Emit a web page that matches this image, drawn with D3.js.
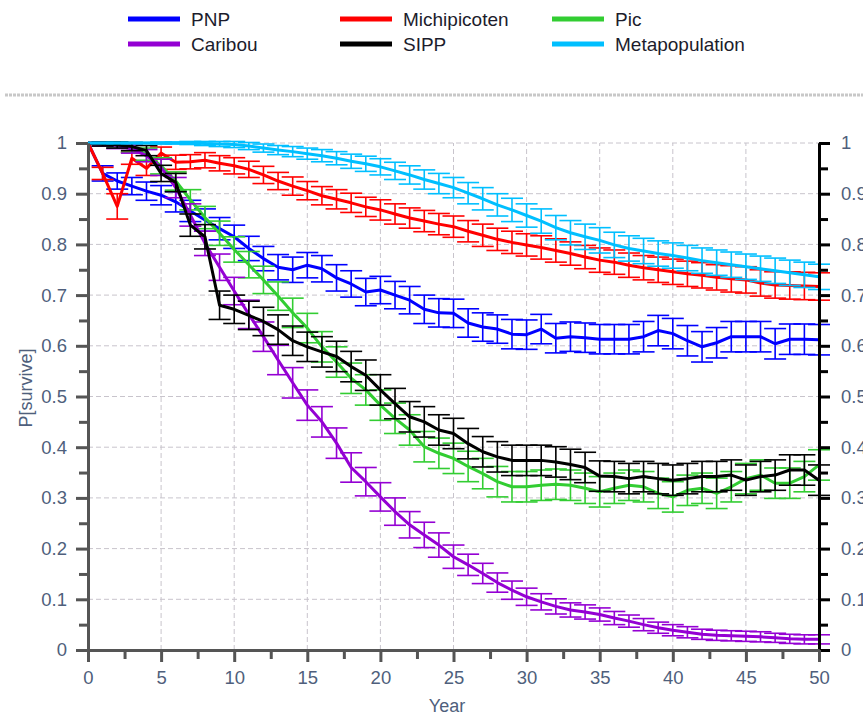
<!DOCTYPE html>
<html>
<head>
<meta charset="utf-8">
<script src="https://cdnjs.cloudflare.com/ajax/libs/d3/7.8.5/d3.min.js"></script>
<style>
body{margin:0;background:#fff;}
text{font-family:"Liberation Sans",Arial,sans-serif;}
</style>
</head>
<body>
<script>
// years 0..50 on the x axis
var years = d3.range(0, 51);

var seriesNames = ["PNP", "Michipicoten", "Pic", "Caribou", "SIPP", "Metapopulation"];
var seriesColors = ["#0000ff", "#ff0000", "#32cd32", "#9400d3", "#000000", "#00bfff"];

var pnp = [1.0,0.94,0.925,0.915,0.905,0.897,0.884,0.866,0.848,0.831,0.815,0.792,0.772,0.755,0.75,0.759,0.752,0.734,0.722,0.706,0.71,0.70,0.69,0.672,0.665,0.664,0.645,0.637,0.633,0.623,0.622,0.633,0.615,0.618,0.616,0.613,0.613,0.613,0.618,0.63,0.624,0.61,0.598,0.606,0.618,0.618,0.618,0.604,0.613,0.613,0.612];
var pnpErr = [0,0.015,0.016,0.017,0.018,0.019,0.02,0.021,0.022,0.022,0.023,0.024,0.024,0.025,0.025,0.025,0.026,0.026,0.026,0.027,0.027,0.027,0.027,0.028,0.028,0.028,0.028,0.028,0.028,0.029,0.029,0.029,0.029,0.029,0.029,0.029,0.029,0.029,0.03,0.03,0.03,0.03,0.03,0.03,0.03,0.03,0.03,0.03,0.03,0.03,0.03];

var michi = [1.0,0.94,0.875,0.97,0.95,0.98,0.962,0.963,0.966,0.96,0.955,0.948,0.937,0.925,0.915,0.906,0.896,0.889,0.882,0.874,0.868,0.86,0.852,0.846,0.84,0.835,0.826,0.818,0.81,0.804,0.799,0.794,0.788,0.782,0.775,0.769,0.765,0.759,0.754,0.75,0.746,0.742,0.739,0.735,0.732,0.73,0.724,0.72,0.719,0.718,0.717];
var michiErr = [0,0.012,0.025,0.012,0.014,0.012,0.014,0.014,0.015,0.015,0.016,0.016,0.017,0.017,0.018,0.018,0.018,0.019,0.019,0.019,0.02,0.02,0.02,0.021,0.021,0.021,0.021,0.022,0.022,0.022,0.022,0.023,0.023,0.023,0.023,0.024,0.024,0.024,0.024,0.025,0.025,0.025,0.025,0.025,0.026,0.026,0.026,0.026,0.027,0.027,0.027];

var pic = [1.0,0.998,0.996,0.99,0.978,0.955,0.925,0.888,0.853,0.822,0.79,0.76,0.73,0.698,0.665,0.635,0.598,0.568,0.536,0.513,0.483,0.457,0.434,0.401,0.388,0.378,0.362,0.348,0.332,0.322,0.322,0.325,0.327,0.325,0.319,0.312,0.319,0.325,0.322,0.309,0.302,0.315,0.319,0.309,0.322,0.338,0.345,0.329,0.329,0.342,0.365];
var picErr = [0,0.004,0.006,0.008,0.012,0.016,0.018,0.02,0.022,0.024,0.025,0.026,0.027,0.028,0.029,0.029,0.03,0.03,0.03,0.03,0.03,0.03,0.03,0.03,0.03,0.03,0.03,0.03,0.03,0.03,0.03,0.03,0.03,0.03,0.03,0.03,0.03,0.03,0.03,0.03,0.03,0.03,0.03,0.03,0.03,0.03,0.03,0.03,0.03,0.03,0.03];

var caribou = [1.0,0.998,0.995,0.988,0.975,0.952,0.912,0.858,0.802,0.755,0.708,0.662,0.618,0.572,0.527,0.483,0.45,0.408,0.36,0.332,0.302,0.273,0.247,0.227,0.207,0.184,0.168,0.151,0.133,0.118,0.105,0.095,0.086,0.079,0.075,0.07,0.063,0.057,0.05,0.044,0.039,0.035,0.031,0.029,0.028,0.027,0.026,0.024,0.022,0.021,0.021];
var caribouErr = [0,0.004,0.006,0.008,0.012,0.016,0.02,0.022,0.024,0.026,0.027,0.028,0.029,0.029,0.03,0.03,0.03,0.03,0.029,0.028,0.028,0.027,0.026,0.025,0.024,0.023,0.021,0.02,0.019,0.018,0.017,0.016,0.015,0.014,0.014,0.013,0.013,0.012,0.012,0.011,0.011,0.011,0.01,0.01,0.01,0.01,0.01,0.009,0.009,0.009,0.009];

var sipp = [1.0,0.998,0.996,0.993,0.985,0.94,0.922,0.838,0.815,0.68,0.672,0.66,0.648,0.632,0.61,0.598,0.588,0.579,0.559,0.542,0.513,0.486,0.46,0.45,0.434,0.427,0.407,0.391,0.381,0.374,0.374,0.374,0.371,0.366,0.36,0.343,0.342,0.338,0.342,0.338,0.335,0.338,0.342,0.342,0.345,0.335,0.342,0.345,0.355,0.355,0.335];
var sippErr = [0,0.004,0.006,0.008,0.01,0.016,0.018,0.022,0.024,0.028,0.028,0.028,0.028,0.029,0.029,0.029,0.03,0.03,0.03,0.03,0.03,0.03,0.03,0.03,0.03,0.03,0.03,0.03,0.03,0.03,0.03,0.03,0.03,0.03,0.03,0.03,0.03,0.03,0.03,0.03,0.03,0.03,0.03,0.03,0.03,0.03,0.03,0.03,0.03,0.03,0.03];

var meta = [1.0,1.0,1.0,1.0,1.0,1.0,1.0,1.0,0.999,0.998,0.997,0.994,0.99,0.986,0.983,0.979,0.975,0.97,0.964,0.959,0.953,0.945,0.937,0.928,0.92,0.912,0.901,0.89,0.878,0.868,0.857,0.846,0.833,0.823,0.815,0.808,0.799,0.792,0.787,0.782,0.778,0.773,0.768,0.764,0.76,0.756,0.752,0.748,0.744,0.74,0.736];
var metaErr = [0,0.001,0.001,0.001,0.001,0.002,0.002,0.003,0.004,0.005,0.006,0.007,0.008,0.009,0.01,0.011,0.012,0.013,0.014,0.015,0.016,0.017,0.018,0.019,0.02,0.02,0.021,0.022,0.022,0.023,0.023,0.024,0.024,0.024,0.025,0.025,0.025,0.025,0.025,0.025,0.025,0.025,0.025,0.025,0.025,0.025,0.025,0.025,0.025,0.025,0.025];

var seriesValues = [pnp, michi, pic, caribou, sipp, meta];
var seriesErrors = [pnpErr, michiErr, picErr, caribouErr, sippErr, metaErr];

var xMajor = [0,5,10,15,20,25,30,35,40,45,50];
var xMinor = [2.5,7.5,12.5,17.5,22.5,27.5,32.5,37.5,42.5,47.5];
var yMajor = [0,0.1,0.2,0.3,0.4,0.5,0.6,0.7,0.8,0.9,1];
var yMinor = [0.05,0.15,0.25,0.35,0.45,0.55,0.65,0.75,0.85,0.95];

var labelColor = "#4f5f7c";

main = function(){
	var svg = d3.select("body").append("svg")
		.attr("width", 863).attr("height", 717);

	var x = d3.scaleLinear().domain([0, 50]).range([88, 819]);
	var y = d3.scaleLinear().domain([0, 1]).range([650, 143]);

	//legend (3 columns, 2 rows)
	var legX = [128, 340, 552];
	var legY = [19, 44];
	for (var i = 0; i < seriesNames.length; i++){
		var lx = legX[i % 3], ly = legY[Math.floor(i / 3)];
		svg.append("line")
			.attr("x1", lx).attr("x2", lx + 52)
			.attr("y1", ly).attr("y2", ly)
			.attr("stroke", seriesColors[i]).attr("stroke-width", 5);
		svg.append("text")
			.attr("x", lx + 63).attr("y", ly + 7)
			.attr("font-size", 19).attr("fill", "#1c1c2c")
			.text(seriesNames[i]);
	}

	// separator under the legend
	svg.append("line")
		.attr("x1", 5).attr("x2", 863).attr("y1", 95).attr("y2", 95)
		.attr("stroke", "#c8c8c8").attr("stroke-width", 3)
		.attr("stroke-dasharray", "3,1");

	//grid
	var grid = svg.append("g").attr("stroke", "#c8c4cc").attr("stroke-width", 1)
		.attr("stroke-dasharray", "5,3");
	grid.selectAll(".gx").data(xMajor.slice(1, -1)).enter().append("line")
		.attr("x1", function(d){ return x(d); }).attr("x2", function(d){ return x(d); })
		.attr("y1", y(0)).attr("y2", y(1));
	grid.selectAll(".gy").data(yMajor.slice(1)).enter().append("line")
		.attr("x1", x(0)).attr("x2", x(50))
		.attr("y1", function(d){ return y(d); }).attr("y2", function(d){ return y(d); });

	//series: error bars then line
	var line = d3.line()
		.x(function(d, i){ return x(years[i]); })
		.y(function(d){ return y(d); });
	var cap = 11;
	for (var s = 0; s < seriesValues.length; s++){
		var vals = seriesValues[s], errs = seriesErrors[s];
		var g = svg.append("g").attr("stroke", seriesColors[s]).attr("fill", "none");
		var bars = g.append("g").attr("stroke-width", 1.6);
		for (var i = 0; i < years.length; i++){
			if (errs[i] <= 0) continue;
			var cx = x(years[i]);
			var top = y(vals[i] + errs[i]), bot = y(vals[i] - errs[i]);
			bars.append("line").attr("x1", cx).attr("x2", cx).attr("y1", top).attr("y2", bot);
			bars.append("line").attr("x1", cx - cap).attr("x2", cx + cap).attr("y1", top).attr("y2", top);
			bars.append("line").attr("x1", cx - cap).attr("x2", cx + cap).attr("y1", bot).attr("y2", bot);
		}
		g.append("path")
			.attr("d", line(vals))
			.attr("stroke-width", 3)
			.attr("stroke-linejoin", "round");
	}

	var fmt = function(d){ return d3.format("~g")(d); };

	//left axis
	var left = svg.append("g").attr("transform", "translate(88,0)");
	left.call(d3.axisLeft(y).tickValues(yMinor).tickSize(9).tickSizeOuter(0).tickFormat(""));
	left.append("g").call(d3.axisLeft(y).tickValues(yMajor).tickSize(12).tickSizeOuter(0).tickPadding(9).tickFormat(fmt));
	left.selectAll("path,line").attr("stroke", "#555").attr("stroke-width", 3);
	left.selectAll("text").attr("font-size", 18.5).attr("fill", labelColor)
		.style("font-family", "'Liberation Sans',Arial,sans-serif");

	//right axis
	var right = svg.append("g").attr("transform", "translate(819,0)");
	right.call(d3.axisRight(y).tickValues(yMinor).tickSize(9).tickSizeOuter(0).tickFormat(""));
	right.append("g").call(d3.axisRight(y).tickValues(yMajor).tickSize(11).tickSizeOuter(0).tickPadding(11).tickFormat(fmt));
	right.selectAll("path,line").attr("stroke", "#000").attr("stroke-width", 3);
	right.selectAll("text").attr("font-size", 18.5).attr("fill", labelColor)
		.style("font-family", "'Liberation Sans',Arial,sans-serif");

	//bottom axis
	var bottom = svg.append("g").attr("transform", "translate(0,650)");
	bottom.call(d3.axisBottom(x).tickValues(xMinor).tickSize(9).tickSizeOuter(0).tickFormat(""));
	bottom.append("g").call(d3.axisBottom(x).tickValues(xMajor).tickSize(12).tickSizeOuter(0).tickPadding(9).tickFormat(fmt));
	bottom.selectAll("path,line").attr("stroke", "#555").attr("stroke-width", 3);
	bottom.selectAll("text").attr("font-size", 18.5).attr("fill", labelColor)
		.style("font-family", "'Liberation Sans',Arial,sans-serif");

	//axis titles
	svg.append("text")
		.attr("x", 447).attr("y", 712)
		.attr("text-anchor", "middle").attr("font-size", 18).attr("fill", labelColor)
		.text("Year");
	svg.append("text")
		.attr("transform", "translate(32,388) rotate(-90)")
		.attr("text-anchor", "middle").attr("font-size", 18).attr("fill", labelColor)
		.text("P[survive]");
};

main();
</script>
</body>
</html>
